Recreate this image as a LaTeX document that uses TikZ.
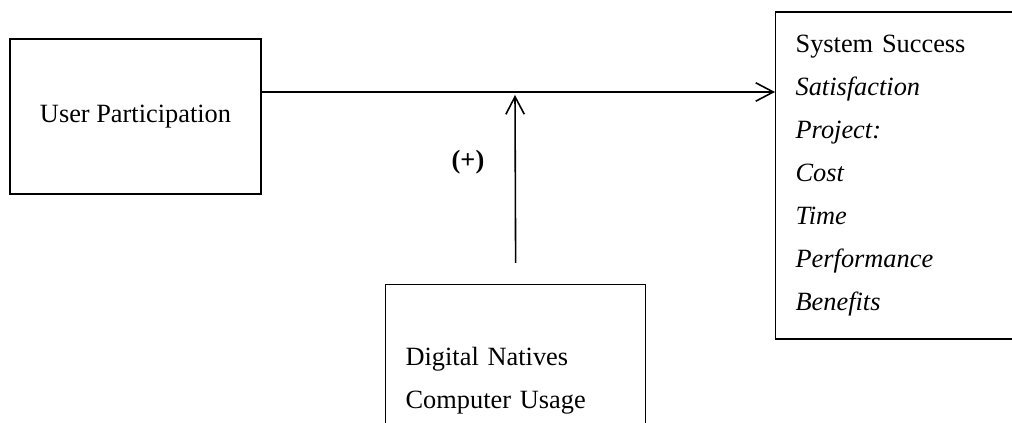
\documentclass[tikz,border=0pt]{standalone}
\usepackage{fontspec}
\setmainfont{Liberation Serif}
\usetikzlibrary{arrows.meta}
\begin{document}
\begin{tikzpicture}[font=\fontsize{15}{24.5}\selectfont,
  box/.style={draw=black,line width=0.7pt,inner xsep=0.4cm,align=left},
  link/.style={black,line width=0.9pt,-{Straight Barb[length=10pt,width=10.5pt,line width=0.9pt]}}]
\clip (0,0) rectangle (20.24,8.46);
\node [box,align=center,minimum width=5.02cm,minimum height=3.1cm] (up) at (2.71,6.13) {User Participation};
\node [box,text width=5cm,minimum height=6.54cm,anchor=west] (ss) at (15.5,4.95) {System Success\\
\textit{Satisfaction}\\ \textit{Project:}\\ \textit{Cost}\\ \textit{Time}\\ \textit{Performance}\\ \textit{Benefits}};
\node [box,text width=4.4cm,minimum height=3.84cm,anchor=north west] (dn) at (7.7,2.78) {Digital Natives\\ Computer Usage};
\coordinate (jn) at (10.3,6.56);
\draw [link] (up.east |- 0,6.62) -- (ss.west |- 0,6.62);
\draw [link] ([yshift=0.42cm]dn.north) -- (jn);
\node [font=\fontsize{15}{18}\bfseries] (pl) at (9.36,5.22) {(+)};
\end{tikzpicture}
\end{document}
